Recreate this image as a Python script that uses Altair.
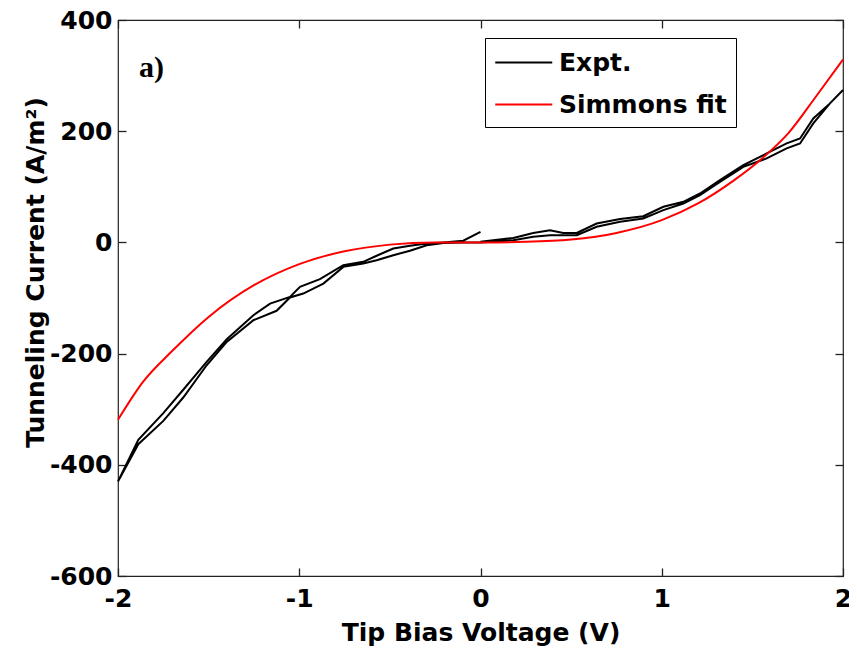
import altair as alt
import pandas as pd

# ---------------- data ----------------
# Experimental curve, four branches (bias in V, current in A/m^2)
pos_lower_V = [0.0, 0.181, 0.291, 0.383, 0.531, 0.641, 0.770, 0.898, 1.009, 1.119, 1.211, 1.321, 1.450, 1.579, 1.689, 1.763, 1.836, 1.928, 2.0]
pos_lower_I = [0, 4, 10, 13, 13, 28, 37, 43, 58, 70, 85, 109, 136, 151, 169, 178, 214, 250, 274]

pos_upper_V = [0.0, 0.181, 0.291, 0.383, 0.457, 0.531, 0.641, 0.770, 0.898, 1.009, 1.119, 1.211, 1.321, 1.450, 1.579, 1.689, 1.763, 1.836, 1.928, 2.0]
pos_upper_I = [1, 8, 17, 22, 17, 17, 34, 42, 47, 64, 73, 88, 112, 139, 160, 178, 187, 223, 250, 274]

neg_lower_V = [-2.0, -1.888, -1.750, -1.640, -1.511, -1.400, -1.253, -1.125, -1.051, -0.978, -0.867, -0.757, -0.647, -0.573, -0.481, -0.389, -0.297, -0.205, -0.095, 0.015]
neg_lower_I = [-430, -363, -321, -279, -221, -179, -140, -123, -99, -92, -74, -44, -38, -32, -23, -15, -5, -1, 0, 0]

neg_upper_V = [-2.0, -1.888, -1.750, -1.640, -1.511, -1.400, -1.253, -1.161, -1.051, -0.996, -0.886, -0.757, -0.647, -0.573, -0.481, -0.389, -0.297, -0.205, -0.095, 0.0]
neg_upper_I = [-430, -355, -307, -265, -215, -174, -131, -110, -98, -80, -66, -41, -35, -24, -11, -6, -2, 0, 3, 19]

# Simmons fit
fit_V = [-2.0, -1.86, -1.7, -1.5, -1.25, -1.0, -0.75, -0.5, -0.25, 0.0, 0.25, 0.5, 0.75, 1.0, 1.2, 1.4, 1.55, 1.7, 1.85, 2.0]
fit_I = [-319, -250, -195, -134, -77, -39, -16, -4, 0, 0, 1, 5, 17, 40, 70, 112, 150, 197, 262, 329]

series_names = ["Expt.", "Simmons fit"]
series_colors = ["#000000", "#ff0000"]

x_ticks = [-2, -1, 0, 1, 2]
y_ticks = [-600, -400, -200, 0, 200, 400]

panel_label = "a)"
x_title = "Tip Bias Voltage (V)"
y_title = "Tunneling Current (A/m²)"

# ---------------- build tables ----------------
path_V = pos_lower_V + pos_upper_V[::-1] + neg_lower_V[::-1] + neg_upper_V
path_I = pos_lower_I + pos_upper_I[::-1] + neg_lower_I[::-1] + neg_upper_I
expt = pd.DataFrame({"V": path_V, "I": path_I, "idx": list(range(len(path_V))), "series": series_names[0]})
fit = pd.DataFrame({"V": fit_V, "I": fit_I, "series": series_names[1]})

W, H = 725, 556
TL = 8  # inward tick length in px (axes pulled inside by TL so ticks point inward)
FONT = "DejaVu Sans"
LABEL_EXPR = "toString(datum.value)"
TICK_COLOR = "#222222"

X_DOMAIN = [-2, 2]
Y_DOMAIN = [-600, 400]


def xs():
    return alt.Scale(domain=X_DOMAIN, nice=False, zero=False)


def ys():
    return alt.Scale(domain=Y_DOMAIN, nice=False, zero=False)


cscale = alt.Scale(domain=series_names, range=series_colors)

tick_style = dict(grid=False, domain=False, ticks=True, tickSize=TL, tickWidth=1.3,
                  tickColor=TICK_COLOR, offset=-TL)

xaxis = alt.Axis(orient="bottom", values=x_ticks, **tick_style,
                 labelExpr=LABEL_EXPR, labelFlush=False,
                 labelFont=FONT, labelFontWeight="bold", labelFontSize=25, labelColor="black",
                 labelPadding=10, title=x_title, titleFont=FONT, titleFontWeight="bold",
                 titleFontSize=25, titleColor="black", titleY=64 + TL, titleBaseline="alphabetic")
yaxis = alt.Axis(orient="left", values=y_ticks, **tick_style,
                 labelExpr=LABEL_EXPR, labelFlush=False,
                 labelFont=FONT, labelFontWeight="bold", labelFontSize=25, labelColor="black",
                 labelPadding=6, title=y_title, titleFont=FONT, titleFontWeight="bold",
                 titleFontSize=25, titleColor="black", titleX=-75 - TL, titleY=252,
                 titleAngle=270, titleBaseline="alphabetic", titleAlign="center")

# mirrored tick-only axes on the top and right edges
xaxis_top = alt.Axis(orient="top", values=x_ticks, **tick_style, labels=False, title=None)
yaxis_right = alt.Axis(orient="right", values=y_ticks, **tick_style, labels=False, title=None)

# legend line symbol: path spans -1..3 units (unit = sqrt(size)/2), i.e. 57 px long
legend = alt.Legend(title=None, orient="none", legendX=367, legendY=18,
                    symbolType="M-1,0L3,0", symbolSize=812, symbolStrokeWidth=2,
                    labelFont=FONT, labelFontWeight="bold", labelFontSize=25, labelColor="black",
                    labelOffset=34, padding=9, rowPadding=13, strokeColor="black",
                    fillColor="white", labelLimit=400)

expt_line = alt.Chart(expt).mark_line(strokeWidth=2).encode(
    x=alt.X("V:Q", scale=xs(), axis=xaxis),
    y=alt.Y("I:Q", scale=ys(), axis=yaxis),
    order="idx:Q",
    color=alt.Color("series:N", scale=cscale, legend=legend),
)

fit_line = alt.Chart(fit).mark_line(strokeWidth=2, interpolate="monotone").encode(
    x=alt.X("V:Q", scale=xs(), axis=xaxis_top),
    y=alt.Y("I:Q", scale=ys(), axis=yaxis_right),
    color=alt.Color("series:N", scale=cscale, legend=legend),
)

label = alt.Chart(pd.DataFrame({"t": [panel_label]})).mark_text(
    font="Liberation Serif", fontWeight="bold", fontSize=30, color="black",
    align="left", baseline="middle").encode(text="t:N", x=alt.value(21), y=alt.value(48))

chart = alt.layer(expt_line, fit_line, label).resolve_scale(
    x="independent", y="independent"
).properties(
    width=W, height=H,
    autosize=alt.AutoSizeParams(type="none"),
    padding={"left": 110, "top": 12, "right": 6, "bottom": 70},
).configure(background="white").configure_view(stroke="#222222", strokeWidth=1.2)

chart.save("out.html", embed_options={"renderer": "svg", "actions": False})
